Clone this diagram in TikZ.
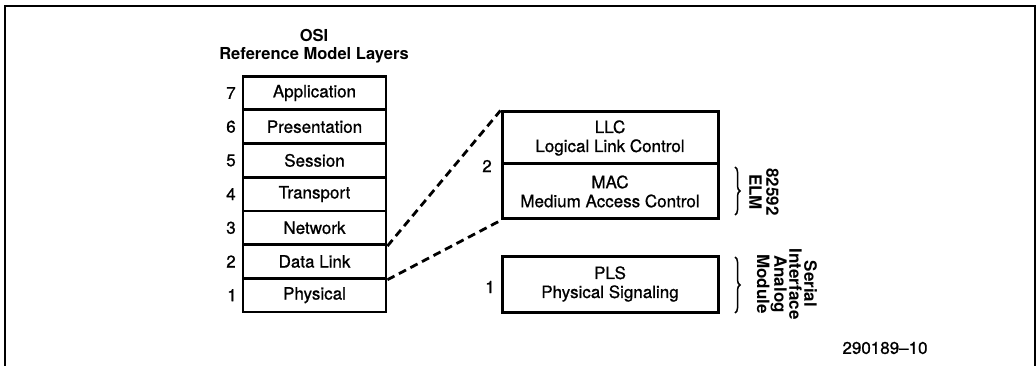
\documentclass[tikz,border=0pt]{standalone}
\usepackage{fontspec}
\setmainfont{TeX Gyre Heros}
\newfontfamily\midfont[FakeBold=0.9,Ligatures=TeX]{TeX Gyre Heros}
\usetikzlibrary{decorations.pathreplacing,calc,positioning}

\newcommand\RowH{33.7}
\tikzset{
  osilayer/.style={
    draw,
    line width = 2.8pt,
    minimum width = 143pt,
    minimum height = \RowH pt,
    inner sep = 0pt,
    font = \midfont\fontsize{17}{18}\selectfont
  },
  sublayer/.style={
    draw,
    line width = 3pt,
    minimum width = 216pt,
    inner sep = 0pt,
    align = center,
    font = \midfont\fontsize{17}{19}\selectfont
  },
  layernum/.style={
    inner sep = 0pt,
    font = \midfont\fontsize{17}{18}\selectfont
  },
  heading/.style={
    align = center,
    inner sep = 0pt,
    font = \bfseries\fontsize{16.5}{18.5}\selectfont
  },
  sidelabel/.style={
    rotate = -90,
    align = center,
    inner sep = 0pt,
    font = \bfseries\fontsize{17}{15}\selectfont
  },
  zoomline/.style={
    line width = 2.8pt,
    dash pattern = on 8pt off 5pt
  },
  chipbrace/.style={
    decorate,
    decoration = {brace, amplitude=5pt},
    line width = 1.5pt
  }
}

\begin{document}
\begin{tikzpicture}[x=1pt,y=-1pt]
       \useasboundingbox (0,0) rectangle (1036,366);

       % frame, open at the bottom
       \draw[line width=2.4pt] (5,366) -- (5,6) -- (1035,6) -- (1035,366);

       \node[heading] (title) at (314,46) {OSI\\Reference Model Layers};

       % the seven OSI layers
       \node[osilayer] (layer7) at (314.5,93) {Application};
       \node[osilayer] (layer6) at (314.5,93+\RowH) {Presentation};
       \node[osilayer] (layer5) at (314.5,93+2*\RowH) {Session};
       \node[osilayer] (layer4) at (314.5,93+3*\RowH) {Transport};
       \node[osilayer] (layer3) at (314.5,93+4*\RowH) {Network};
       \node[osilayer] (layer2) at (314.5,93+5*\RowH) {Data Link};
       \node[osilayer] (layer1) at (314.5,93+6*\RowH) {Physical};

       \node[layernum] (num7) at (231,93) {7};
       \node[layernum] (num6) at (231,93+\RowH) {6};
       \node[layernum] (num5) at (231,93+2*\RowH) {5};
       \node[layernum] (num4) at (231,93+3*\RowH) {4};
       \node[layernum] (num3) at (231,93+4*\RowH) {3};
       \node[layernum] (num2) at (231,93+5*\RowH) {2};
       \node[layernum] (num1) at (232,93+6*\RowH) {1};

       % IEEE 802 sublayers
       \node[sublayer, minimum height=52pt] (llc) at (610,138) {LLC\\Logical Link Control};
       \node[sublayer, minimum height=55pt] (mac) at (610,191.5) {MAC\\Medium Access Control};
       \node[sublayer, minimum height=56pt] (pls) at (610,284) {PLS\\Physical Signaling};

       \node[layernum] (sub2) at (487,166) {2};
       \node[layernum] (sub1) at (490,287) {1};

       \draw[zoomline] (layer3.south east) -- (llc.north west);
       \draw[zoomline] (layer2.south east) -- (mac.south west);

       % chips
       \coordinate (elmtop) at (735,167);
       \coordinate (elmbot) at (735,215);
       \coordinate (siatop) at (735,257);
       \coordinate (siabot) at (735,313);
       \draw[chipbrace] (elmtop) -- (elmbot);
       \draw[chipbrace] (siatop) -- (siabot);

       \node[sidelabel, font=\bfseries\fontsize{17}{17}\selectfont] (elm) at (764,192) {82592\\ELM};
       \node[sidelabel] (sia) at (787,284) {Serial\\Interface\\Analog\\Module};

       \node[layernum] (fignum) at (885,348) {290189--10};
\end{tikzpicture}
\end{document}
